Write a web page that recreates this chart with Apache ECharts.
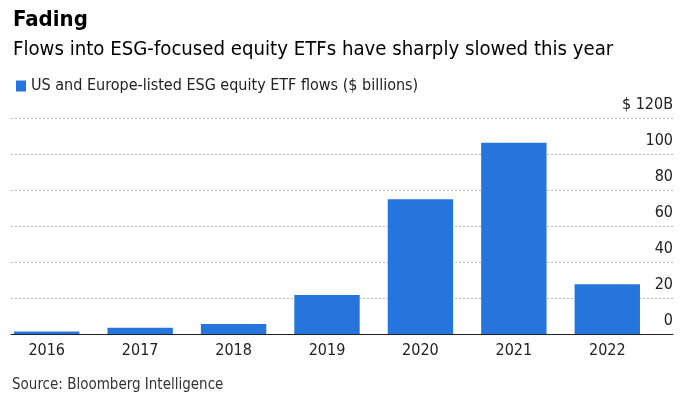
<!DOCTYPE html>
<html><head><meta charset="utf-8">
<script src="https://cdn.jsdelivr.net/npm/echarts@6/dist/echarts.min.js"></script>
<style>html,body{margin:0;padding:0;background:#fff}#c{width:700px;height:394px}</style>
</head><body><div id="c"></div>
<script>
const years = ['2016','2017','2018','2019','2020','2021','2022'];
const flows = [1.4, 3.5, 5.5, 21.7, 74.8, 106.3, 27.6];
const yTicks = [0, 20, 40, 60, 80, 100, 120];
const seriesName = 'US and Europe-listed ESG equity ETF flows ($ billions)';
const FONT = '"Liberation Sans Narrow", "DejaVu Sans Condensed", sans-serif';

const chart = echarts.init(document.getElementById('c'), null, {renderer:'canvas'});
chart.setOption({
  animation: false,
  textStyle: {fontFamily: FONT},
  title: [
    {text: 'Fading', left: 8, top: 4, textStyle: {fontFamily: FONT, fontSize: 22, fontWeight: 'bold', color: '#000'}},
    {text: 'Flows into ESG-focused equity ETFs have sharply slowed this year', left: 8, top: 35, textStyle: {fontFamily: FONT, fontSize: 20.2, fontWeight: 'normal', color: '#000'}},
    {text: 'Source: Bloomberg Intelligence', left: 7, top: 373, textStyle: {fontFamily: FONT, fontSize: 15, fontWeight: 'normal', color: '#333'}}
  ],
  legend: {
    left: 11, top: 73, icon: 'rect', itemWidth: 10, itemHeight: 11, itemGap: 6,
    textStyle: {fontFamily: FONT, fontSize: 16, color: '#222'},
    data: [seriesName]
  },
  grid: [
    {left: -1.25, right: 46, top: 118, bottom: 60},
    {left: 11, right: 27, top: 118, bottom: 60}
  ],
  xAxis: [
    {type: 'category', gridIndex: 0, data: years, axisLine: {show: false}, axisTick: {show: false},
     axisLabel: {fontFamily: FONT, fontSize: 16, color: '#222', margin: 9}},
    {type: 'category', gridIndex: 1, data: ['a'], axisLine: {show: true, lineStyle: {color: '#222', width: 1}},
     axisTick: {show: false}, axisLabel: {show: false}}
  ],
  yAxis: [
    {type: 'value', gridIndex: 0, min: 0, max: 120, interval: 20, show: false},
    {type: 'value', gridIndex: 1, position: 'right', min: 0, max: 120, interval: 20,
     axisLine: {show: false}, axisTick: {show: false},
     splitLine: {show: true, lineStyle: {type: [2, 2], color: '#bbb', width: 1}},
     axisLabel: {inside: true, margin: 0, fontFamily: FONT, fontSize: 16, color: '#222', verticalAlign: 'bottom', padding: [0, 0, 5, 0],
       formatter: v => v === 120 ? '$ 120B' : String(v)}}
  ],
  series: [{
    name: seriesName, type: 'bar', xAxisIndex: 0, yAxisIndex: 0, data: flows,
    barCategoryGap: '30%', itemStyle: {color: '#2675dc'}, z: 3
  }]
});
</script></body></html>
